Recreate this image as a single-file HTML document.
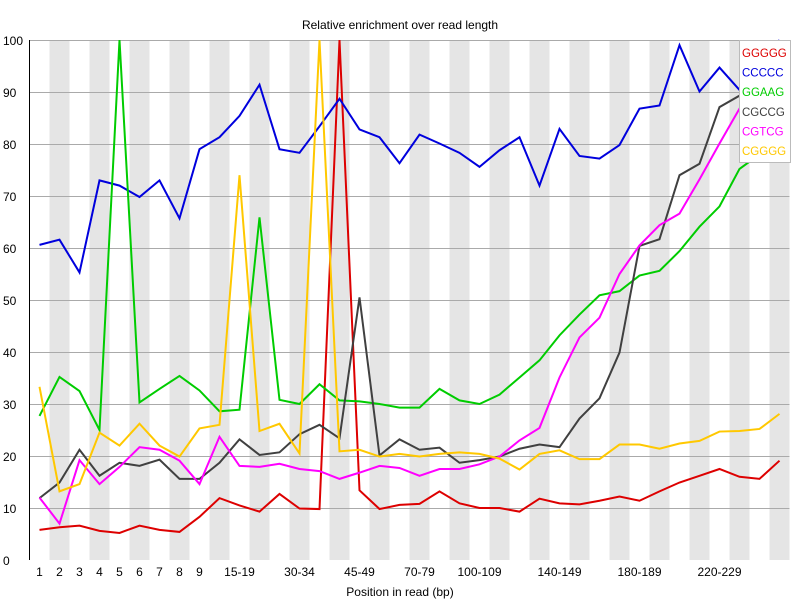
<!DOCTYPE html>
<html><head><meta charset="utf-8"><style>
body{margin:0;background:#fff}
svg{display:block;font-family:"Liberation Sans","DejaVu Sans",sans-serif}
</style></head><body>
<svg id="chart" width="800" height="600" xmlns="http://www.w3.org/2000/svg">
<rect width="800" height="600" fill="#fff"/>
<text x="400" y="29" font-size="12" text-anchor="middle">Relative enrichment over read length</text>
<g id="stripes"></g><g id="grid"></g><g id="ylabels"></g><g id="xlabels"></g><g id="series"></g>
<line x1="29.5" y1="40" x2="29.5" y2="560" stroke="#000"/>
<text x="400" y="596" font-size="12" text-anchor="middle">Position in read (bp)</text>
<g id="legend"></g>
</svg>
<script>
const categories=["1","2","3","4","5","6","7","8","9","10-14","15-19","20-24","25-29","30-34","35-39","40-44","45-49","50-59","60-69","70-79","80-89","90-99","100-109","110-119","120-129","130-139","140-149","150-159","160-169","170-179","180-189","190-199","200-209","210-219","220-229","230-239","240-249","250-259"];
const shownLabels=["1","2","3","4","5","6","7","8","9","15-19","30-34","45-49","70-79","100-109","140-149","180-189","220-229"];
const yTicks=[0,10,20,30,40,50,60,70,80,90,100];
const seriesNames=["GGGGG","CCCCC","GGAAG","CGCCG","CGTCG","CGGGG"];
const seriesColors=["#dd0000","#0000dd","#00cc00","#404040","#ff00ff","#ffc800"];
const gggggValues=[5.8,6.3,6.6,5.6,5.2,6.6,5.8,5.4,8.3,11.9,10.5,9.3,12.7,9.9,9.8,100,13.4,9.8,10.6,10.8,13.2,10.9,10,10,9.3,11.8,10.9,10.7,11.4,12.2,11.4,13.2,14.9,16.2,17.5,16,15.6,19.1];
const cccccValues=[60.6,61.6,55.3,73,72,69.8,73,65.7,79,81.3,85.4,91.4,79,78.3,83.4,88.7,82.8,81.3,76.3,81.8,80.1,78.3,75.6,78.8,81.3,72,82.9,77.7,77.2,79.8,86.8,87.4,99,90.1,94.7,90.4,95,100];
const ggaagValues=[27.7,35.2,32.5,25,100,30.3,32.9,35.4,32.6,28.6,28.9,65.9,30.8,30,33.8,30.7,30.5,30,29.3,29.3,32.9,30.7,30,31.8,35.1,38.4,43.2,47.2,50.9,51.7,54.7,55.6,59.4,64.1,68,75.2,78,80];
const cgccgValues=[11.9,14.9,21.2,16.2,18.7,18.1,19.3,15.6,15.6,18.7,23.2,20.2,20.7,24.2,26,23.4,50.5,20.1,23.2,21.2,21.6,18.7,19.2,19.9,21.4,22.2,21.7,27.2,31.1,39.9,60.4,61.7,74,76.2,87.1,89.3,93,97];
const cgtcgValues=[12,7,19.2,14.6,17.9,21.7,21.2,19.1,14.6,23.7,18.1,17.9,18.5,17.5,17.1,15.6,16.8,18.1,17.7,16.2,17.5,17.5,18.4,19.9,23,25.4,35.1,42.8,46.6,55,60.5,64.4,66.6,73.2,80.1,86.8,93,99];
const cggggValues=[33.3,13.2,14.6,24.5,22,26.2,22,19.9,25.3,26,74,24.8,26.2,20.5,100,20.9,21.2,19.9,20.4,19.9,20.4,20.7,20.4,19.5,17.4,20.4,21.1,19.4,19.4,22.2,22.2,21.4,22.4,22.9,24.7,24.8,25.2,28.1];
const allValues=[gggggValues,cccccValues,ggaagValues,cgccgValues,cgtcgValues,cggggValues];

const NS="http://www.w3.org/2000/svg";
const plotLeft=29.5,bandW=20,plotTop=40,plotBottom=560,plotRight=789.5;
function xPos(i){return plotLeft+bandW*i+bandW/2;}
function yPos(v){return plotBottom-(plotBottom-plotTop)*v/100;}
function mk(tag,attrs,parent){const e=document.createElementNS(NS,tag);for(const k in attrs)e.setAttribute(k,attrs[k]);parent.appendChild(e);return e;}

const stripes=document.getElementById('stripes');
categories.forEach((c,i)=>{
  if(i%2===1){
    const r=mk('rect',{x:plotLeft+bandW*i,y:plotTop,width:bandW,height:plotBottom-plotTop,fill:'#e5e5e5'},stripes);
    
    
  }
});
const grid=document.getElementById('grid'),yl=document.getElementById('ylabels');
yTicks.forEach(t=>{
  const y=yPos(t);
  if(t>0){
    const l=mk('line',{x1:plotLeft,x2:plotRight,y1:y+0.5,y2:y+0.5,stroke:'#aaaaaa'},grid);
    
    
  }
  const tx=mk('text',{x:3,y:y+5,'font-size':12,'text-anchor':'start'},yl);
  tx.textContent=t;
  
  
});
const xl=document.getElementById('xlabels');
categories.forEach((c,i)=>{
  if(shownLabels.indexOf(c)<0)return;
  const tx=mk('text',{x:xPos(i),y:576,'font-size':12,'text-anchor':'middle'},xl);
  tx.textContent=c;
  
  
});
const sg=document.getElementById('series');
allValues.forEach((vals,s)=>{
  const pts=vals.map((v,i)=>xPos(i)+','+yPos(v)).join(' ');
  const p=mk('polyline',{points:pts,fill:'none',stroke:seriesColors[s],'stroke-width':2,'stroke-linejoin':'miter'},sg);
  
  
});
const lg=document.getElementById('legend');
mk('rect',{x:739.5,y:40.5,width:51,height:122,fill:'#fff',stroke:'#bbbbbb'},lg);
seriesNames.forEach((n,s)=>{
  const tx=mk('text',{x:742,y:57+s*19.6,'font-size':11.5,fill:seriesColors[s]},lg);
  tx.textContent=n;
  
  
});
</script>
</body></html>
